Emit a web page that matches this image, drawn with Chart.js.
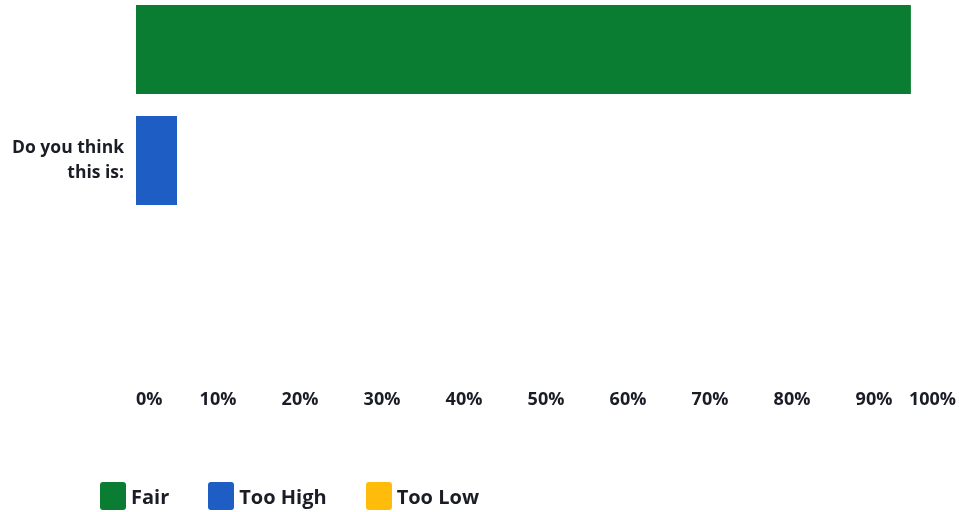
<!DOCTYPE html>
<html>
<head>
<meta charset="utf-8">
<script src="https://cdn.jsdelivr.net/npm/chart.js@4/dist/chart.umd.min.js"></script>
<style>
  html, body { margin: 0; padding: 0; background: #fff; overflow: hidden; }
  #wrap { position: relative; width: 959px; height: 512px; overflow: hidden; }
  #wrap canvas { position: absolute; left: 0; top: -6px; }
  #legend { position: absolute; left: 100px; top: 482px; display: flex; font-family: "Open Sans", Inter, sans-serif; font-weight: 700; font-size: 20px; color: #1b1d26; }
  #legend .item { display: flex; align-items: center; margin-right: 39px; }
  #legend .box { width: 26px; height: 28px; border-radius: 3px; margin-right: 5px; }
</style>
</head>
<body>
<div id="wrap">
  <canvas id="chart" width="959" height="518"></canvas>
  <div id="legend"></div>
</div>
<script>
// survey answers, percent of respondents
var categories = [["Do you think", "this is:"]];
var seriesNames = ["Fair", "Too High", "Too Low"];
var fairValues = [94.5];
var tooHighValues = [5];
var tooLowValues = [0];
var seriesColors = ["#0b7d33", "#1e5ec4", "#ffbc0a"];
var tickValues = [0, 10, 20, 30, 40, 50, 60, 70, 80, 90, 100];

var textColor = "#1b1d26";
var fontFamily = "'Open Sans', Inter, sans-serif";

// keep the axes from adding their own label overflow padding
function noPadding(axis){
  axis.paddingLeft = 0;
  axis.paddingRight = 0;
  axis.paddingTop = 0;
  axis.paddingBottom = 0;
}

var chart = new Chart(document.getElementById("chart"), {
  type: "bar",
  data: {
    labels: categories,
    datasets: [
      { label: seriesNames[0], data: fairValues, backgroundColor: seriesColors[0] },
      { label: seriesNames[1], data: tooHighValues, backgroundColor: seriesColors[1] },
      { label: seriesNames[2], data: tooLowValues, backgroundColor: seriesColors[2] }
    ]
  },
  options: {
    indexAxis: "y",
    responsive: false,
    animation: false,
    layout: { padding: { right: 3 } },
    datasets: {
      bar: { barPercentage: 0.8, categoryPercentage: 1, borderWidth: 0 }
    },
    plugins: {
      legend: { display: false },
      tooltip: { enabled: false }
    },
    scales: {
      x: {
        min: 0,
        max: 100,
        afterBuildTicks: function(axis){
          axis.ticks = tickValues.map(function(v){ return { value: v }; });
        },
        afterFit: function(axis){ axis.height = 185; noPadding(axis); },
        grid: { display: false },
        border: { display: false },
        ticks: {
          align: "inner",
          padding: 54,
          color: textColor,
          font: { family: fontFamily, size: 18, weight: "700" },
          callback: function(v){ return v + "%"; }
        }
      },
      y: {
        afterFit: function(axis){ axis.width = 136; noPadding(axis); },
        grid: { display: false },
        border: { display: false },
        ticks: {
          padding: 4,
          color: textColor,
          font: { family: fontFamily, size: 17.5, weight: "700", lineHeight: 1.45 }
        }
      }
    }
  }
});

// html legend built from the chart datasets
var legendEl = document.getElementById("legend");
chart.data.datasets.forEach(function(ds){
  var item = document.createElement("div");
  item.className = "item";
  var box = document.createElement("span");
  box.className = "box";
  box.style.background = ds.backgroundColor;
  var txt = document.createElement("span");
  txt.textContent = ds.label;
  item.appendChild(box);
  item.appendChild(txt);
  legendEl.appendChild(item);
});
</script>
</body>
</html>
